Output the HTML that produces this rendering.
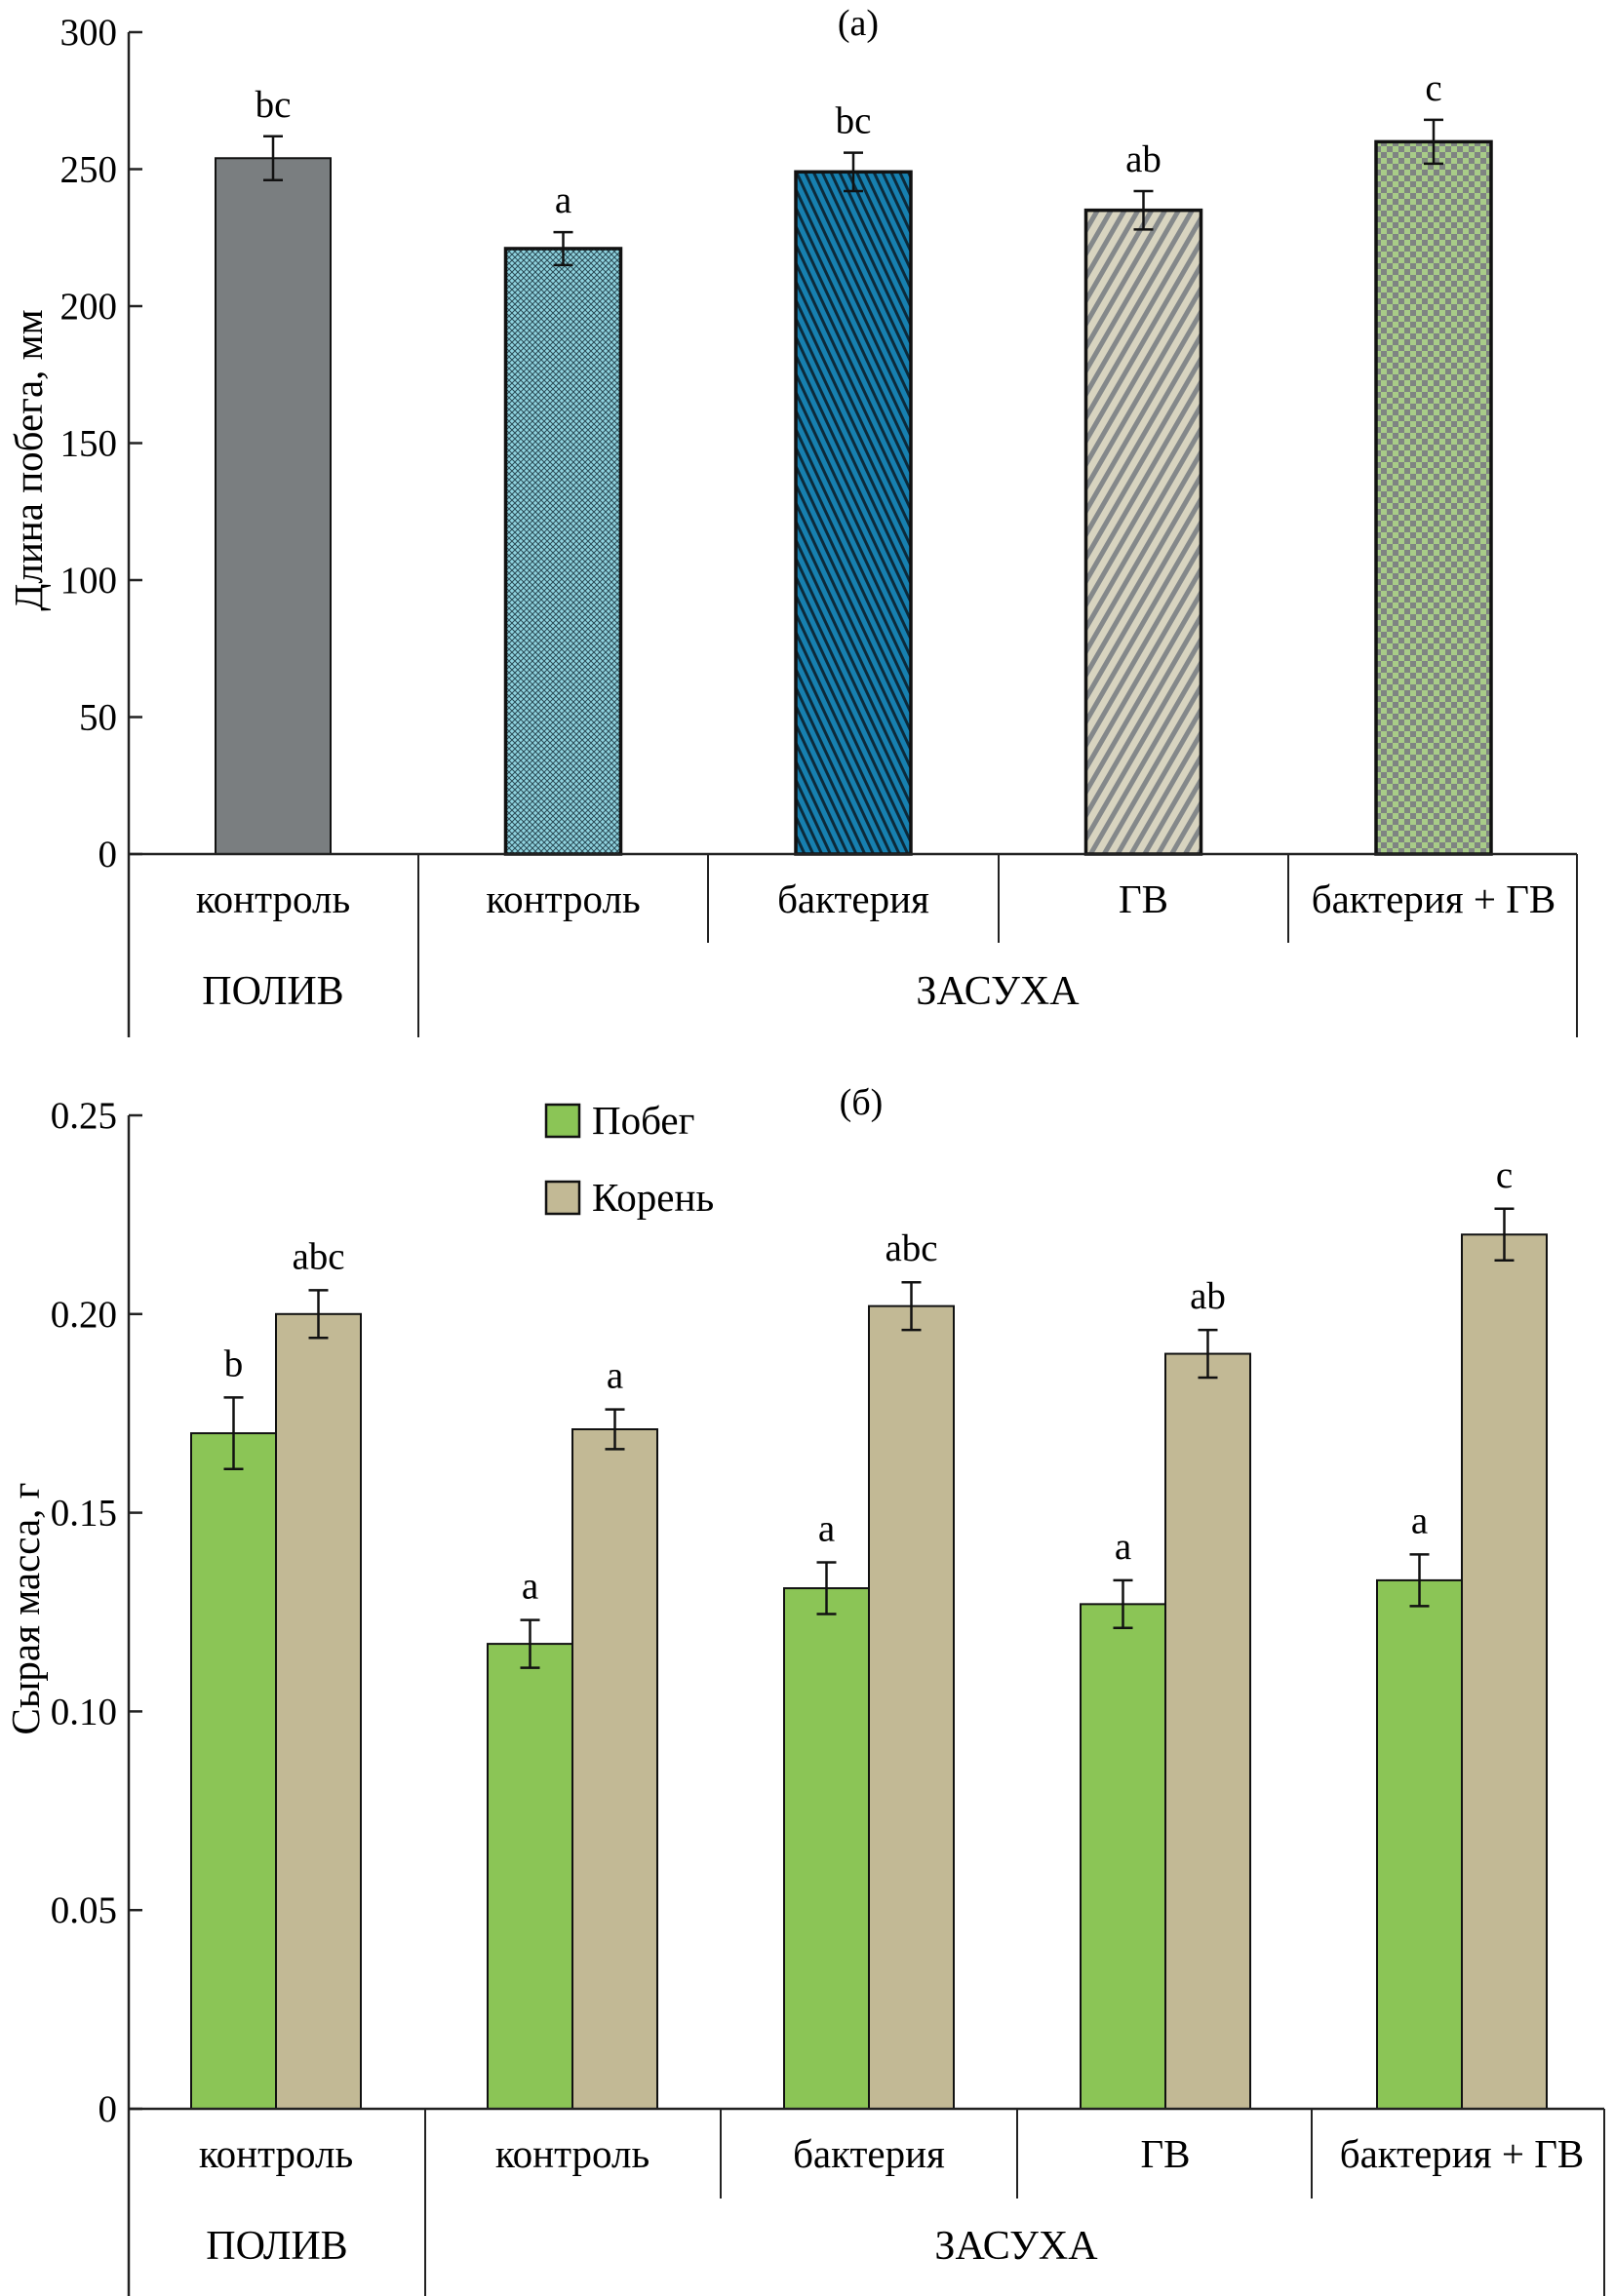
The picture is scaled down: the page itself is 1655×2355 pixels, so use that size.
<!DOCTYPE html>
<html><head><meta charset="utf-8">
<style>
html,body{margin:0;padding:0;background:#fff;}
svg{display:block;font-family:"Liberation Serif","Noto Serif CJK SC",serif;}
</style></head>
<body>
<svg id="chart" width="1655" height="2355" viewBox="0 0 1655 2355" xmlns="http://www.w3.org/2000/svg">
<defs>
  <pattern id="pCross" width="6" height="6" patternUnits="userSpaceOnUse">
    <rect width="6" height="6" fill="#8fd3df"/>
    <path d="M0 0L6 6M6 0L0 6" stroke="#2a4a55" stroke-width="1"/>
  </pattern>
  <pattern id="pBlue" width="8" height="8" patternUnits="userSpaceOnUse" patternTransform="rotate(-25)">
    <rect width="8" height="8" fill="#1780b0"/>
    <rect width="3" height="8" fill="#0c2a3a"/>
  </pattern>
  <pattern id="pStripe" width="12" height="12" patternUnits="userSpaceOnUse" patternTransform="rotate(30)">
    <rect width="12" height="12" fill="#d8d4c0"/>
    <rect width="5" height="12" fill="#84888a"/>
  </pattern>
  <pattern id="pCheck" width="12" height="12" patternUnits="userSpaceOnUse">
    <rect width="12" height="12" fill="#a8cc88"/>
    <rect width="6" height="6" fill="#7f8482"/>
    <rect x="6" y="6" width="6" height="6" fill="#7f8482"/>
  </pattern>
</defs>
<g id="a"></g>
<g id="b"></g>
</svg>
<script>
// ---- Chart (a) data ----
const catsA = ["контроль","контроль","бактерия","ГВ","бактерия + ГВ"];
const valsA = [254, 221, 249, 235, 260];
const errsA = [8, 6, 7, 7, 8];
const lettersA = ["bc","a","bc","ab","c"];
const ticksA = [0,50,100,150,200,250,300];
// ---- Chart (b) data ----
const catsB = ["контроль","контроль","бактерия","ГВ","бактерия + ГВ"];
const shootB = [0.170, 0.117, 0.131, 0.127, 0.133];
const shootErrB = [0.009, 0.006, 0.0065, 0.006, 0.0065];
const rootB = [0.200, 0.171, 0.202, 0.190, 0.220];
const rootErrB = [0.006, 0.005, 0.006, 0.006, 0.0065];
const shootLetters = ["b","a","a","a","a"];
const rootLetters = ["abc","a","abc","ab","c"];
const ticksB = ["0","0.05","0.10","0.15","0.20","0.25"];
const tickValsB = [0,0.05,0.10,0.15,0.20,0.25];

const NS="http://www.w3.org/2000/svg";
function mk(parent,tag,attrs,text){const e=document.createElementNS(NS,tag);for(const k in attrs)e.setAttribute(k,attrs[k]);if(text!==undefined)e.textContent=text;parent.appendChild(e);return e;}

// ===== Chart A =====
(function(){
const g=document.getElementById('a');
const X0=132, XR=1617, Y0=876, Ytop=33;
const y=v=>Y0-(v-0)/(300)*(Y0-Ytop);
const fills=["#7a7e80","url(#pCross)","url(#pBlue)","url(#pStripe)","url(#pCheck)"];
let e=mk(g,'text',{x:880,y:36,'font-size':38,'text-anchor':'middle'},'(a)');

e=mk(g,'text',{transform:'translate(43,472) rotate(-90)','font-size':41,'text-anchor':'middle'},'Длина побега, мм');

e=mk(g,'line',{x1:X0,y1:Ytop,x2:X0,y2:1064,stroke:'#222','stroke-width':2.5});

ticksA.forEach(t=>{
  const l=mk(g,'line',{x1:X0,y1:y(t),x2:X0+14,y2:y(t),stroke:'#222','stroke-width':2.5});
  
  const tx=mk(g,'text',{x:X0-12,y:y(t)+13,'font-size':39,'text-anchor':'end'},String(t));
  
});
valsA.forEach((v,i)=>{
  const c=X0+148+i*297.5, w=118;
  const r=mk(g,'rect',{x:c-w/2,y:y(v),width:w,height:Y0-y(v),fill:fills[i],stroke:'#111','stroke-width':i===0?2:3.5});
  
  const eb=mk(g,'path',{d:`M${c} ${y(v+errsA[i])}V${y(v-errsA[i])}M${c-10} ${y(v+errsA[i])}H${c+10}M${c-10} ${y(v-errsA[i])}H${c+10}`,stroke:'#111','stroke-width':2.5,fill:'none'});
  
  const lt=mk(g,'text',{x:c,y:y(v+errsA[i])-20,'font-size':39,'text-anchor':'middle'},lettersA[i]);
  
  const cl=mk(g,'text',{x:c,y:936,'font-size':41,'text-anchor':'middle'},catsA[i]);
  
});
e=mk(g,'line',{x1:X0,y1:Y0,x2:XR,y2:Y0,stroke:'#222','stroke-width':2.5});

[[429,1064],[726,967],[1024,967],[1321,967],[XR,1064]].forEach(s=>{
  const l=mk(g,'line',{x1:s[0],y1:Y0,x2:s[0],y2:s[1],stroke:'#222','stroke-width':2});
  
});
e=mk(g,'text',{x:280,y:1030,'font-size':42,'text-anchor':'middle'},'ПОЛИВ');

e=mk(g,'text',{x:1023,y:1030,'font-size':42,'text-anchor':'middle'},'ЗАСУХА');

})();

// ===== Chart B =====
(function(){
const g=document.getElementById('b');
const X0=132, XR=1645, Y0=2163, Ytop=1144;
const y=v=>Y0-v/0.25*(Y0-Ytop);
let e=mk(g,'text',{x:883,y:1143,'font-size':38,'text-anchor':'middle'},'(б)');

e=mk(g,'text',{transform:'translate(40,1650) rotate(-90)','font-size':41,'text-anchor':'middle'},'Сырая масса, г');

e=mk(g,'line',{x1:X0,y1:Ytop,x2:X0,y2:2355,stroke:'#222','stroke-width':2.5});

tickValsB.forEach((t,i)=>{
  const l=mk(g,'line',{x1:X0,y1:y(t),x2:X0+14,y2:y(t),stroke:'#222','stroke-width':2.5});
  
  const tx=mk(g,'text',{x:X0-12,y:y(t)+13,'font-size':39,'text-anchor':'end'},ticksB[i]);
  
});
// legend
e=mk(g,'rect',{x:560,y:1133,width:34,height:33,fill:'#8bc556',stroke:'#111','stroke-width':2.5});

e=mk(g,'text',{x:607,y:1163,'font-size':41},'Побег');

e=mk(g,'rect',{x:560,y:1212,width:34,height:33,fill:'#c2b995',stroke:'#111','stroke-width':2.5});

e=mk(g,'text',{x:607,y:1242,'font-size':41},'Корень');

const w=87;
shootB.forEach((v,i)=>{
  const c=283+i*304;
  [[v,shootErrB[i],c-w,'#8bc556',shootLetters[i],'shoot'],[rootB[i],rootErrB[i],c,'#c2b995',rootLetters[i],'root']].forEach(s=>{
    const [val,er,x,col,let_,nm]=s;
    const r=mk(g,'rect',{x:x,y:y(val),width:w,height:Y0-y(val),fill:col,stroke:'#111','stroke-width':2});
    
    const m=x+w/2;
    const eb=mk(g,'path',{d:`M${m} ${y(val+er)}V${y(val-er)}M${m-10} ${y(val+er)}H${m+10}M${m-10} ${y(val-er)}H${m+10}`,stroke:'#111','stroke-width':2.5,fill:'none'});
    
    const lt=mk(g,'text',{x:m,y:y(val+er)-22,'font-size':39,'text-anchor':'middle'},let_);
    
  });
  const cl=mk(g,'text',{x:c,y:2223,'font-size':41,'text-anchor':'middle'},catsB[i]);
  
});
e=mk(g,'line',{x1:X0,y1:Y0,x2:XR,y2:Y0,stroke:'#222','stroke-width':2.5});

[[436,2355],[739,2255],[1043,2255],[1345,2255],[XR,2355]].forEach(s=>{
  const l=mk(g,'line',{x1:s[0],y1:Y0,x2:s[0],y2:s[1],stroke:'#222','stroke-width':2});
  
});
e=mk(g,'text',{x:284,y:2317,'font-size':42,'text-anchor':'middle'},'ПОЛИВ');

e=mk(g,'text',{x:1042,y:2317,'font-size':42,'text-anchor':'middle'},'ЗАСУХА');

})();
</script>
</body></html>
